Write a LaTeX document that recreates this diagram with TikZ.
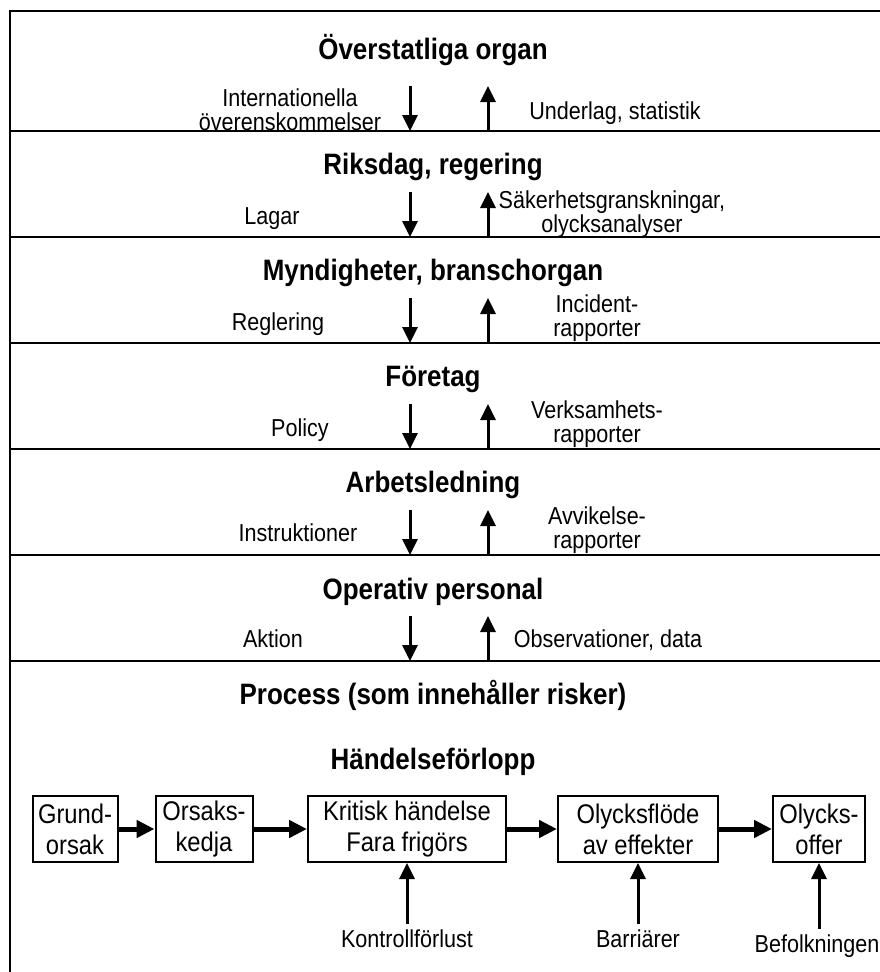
\documentclass[tikz,border=0pt]{standalone}
\usepackage{fontspec}
\setmainfont{Liberation Sans}[FakeStretch=0.88]
\usetikzlibrary{arrows.meta,positioning}

\begin{document}
\begin{tikzpicture}[x=1pt,y=-1pt,
    rubrik/.style={font=\fontsize{29.5}{34}\selectfont\bfseries,anchor=base,inner sep=0pt},
    etikett/.style={font=\fontsize{24.5}{24}\selectfont,align=center,inner sep=0pt},
    ruta/.style={draw,line width=2pt,font=\fontsize{27}{31}\selectfont,align=center,
        minimum height=66pt,inner sep=0pt},
    pil/.style={line width=3pt,-{Triangle[width=15pt,length=16pt]}},
    kedja/.style={line width=5pt,-{Triangle[width=17pt,length=18pt]}},
    linje/.style={line width=2pt}]
	\useasboundingbox (0,0) rectangle (880,972);
	\draw[linje] (880,11) -- (10,11) -- (10,972);
	\foreach \y in {131,237,343,449,555,661}
	    \draw[linje] (10,\y) -- (880,\y);
	\node[rubrik] (overstatliga) at (433,59) {Överstatliga organ};
	\node[rubrik] (riksdag) at (433,174) {Riksdag, regering};
	\node[rubrik] (myndigheter) at (433,280) {Myndigheter, branschorgan};
	\node[rubrik] (foretag) at (433,386) {Företag};
	\node[rubrik] (arbetsledning) at (433,492) {Arbetsledning};
	\node[rubrik] (operativ) at (433,599) {Operativ personal};
	\node[rubrik] (process) at (433,704) {Process (som innehåller risker)};
	\node[rubrik] (forlopp) at (433,769) {Händelseförlopp};
	\foreach \y/\n in {131/a,237/b,343/c,449/d,555/e,661/f} {
	    \coordinate (ned\n) at (410,\y-45);
	    \coordinate (nedslut\n) at (410,\y);
	    \coordinate (upp\n) at (488,\y);
	    \coordinate (uppslut\n) at (488,\y-45);
	    \draw[pil] (ned\n) -- (nedslut\n);
	    \draw[pil] (upp\n) -- (uppslut\n);
	}
	\node[etikett] (internationella) at (290,110) {Internationella\\överenskommelser};
	\node[etikett,anchor=base] (underlag) at (615,119) {Underlag, statistik};
	\node[etikett,anchor=base] (lagar) at (272,224) {Lagar};
	\node[etikett] (sakerhet) at (612,214) {Säkerhetsgranskningar,\\olycksanalyser};
	\node[etikett,anchor=base] (reglering) at (278,330) {Reglering};
	\node[etikett] (incident) at (597,318) {Incident-\\rapporter};
	\node[etikett,anchor=base] (policy) at (300,436) {Policy};
	\node[etikett] (verksamhet) at (597,424) {Verksamhets-\\rapporter};
	\node[etikett,anchor=base] (instruktioner) at (298,541) {Instruktioner};
	\node[etikett] (avvikelse) at (597,530) {Avvikelse-\\rapporter};
	\node[etikett,anchor=base] (aktion) at (273,647) {Aktion};
	\node[etikett,anchor=base] (observationer) at (608,647) {Observationer, data};
	\node[ruta,minimum width=85pt] (grund) at (75,829) {Grund-\\orsak};
	\node[ruta,minimum width=97pt] (orsak) at (204,829) {Orsaks-\\kedja};
	\node[ruta,minimum width=198pt] (kritisk) at (407,829) {Kritisk händelse\\Fara frigörs};
	\node[ruta,minimum width=160pt] (flode) at (638,829) {Olycksflöde\\av effekter};
	\node[ruta,minimum width=92pt] (offer) at (819,829) {Olycks-\\offer};
	\draw[kedja] (grund) -- (orsak);
	\draw[kedja] (orsak) -- (kritisk);
	\draw[kedja] (kritisk) -- (flode);
	\draw[kedja] (flode) -- (offer);
	\node[etikett,anchor=base] (kontroll) at (407,947) {Kontrollförlust};
	\node[etikett,anchor=base] (barriarer) at (638,947) {Barriärer};
	\node[etikett,anchor=base] (befolkning) at (817,952) {Befolkningen};
	\draw[pil,shorten <=5pt] (kontroll.north) -- (kritisk.south);
	\draw[pil,shorten <=5pt] (barriarer.north) -- (flode.south);
	\draw[pil,shorten <=5pt] (befolkning.north-|offer.south) -- (offer.south);
\end{tikzpicture}
\end{document}
